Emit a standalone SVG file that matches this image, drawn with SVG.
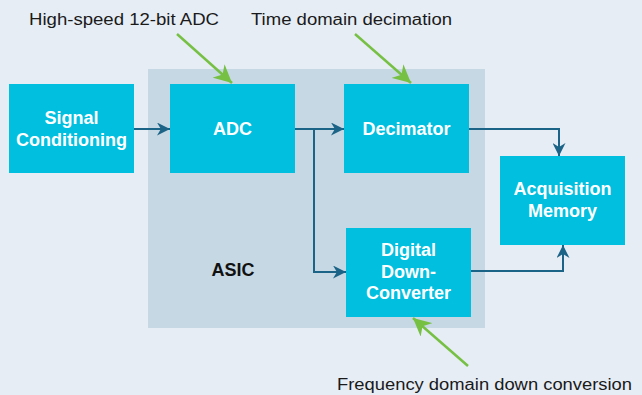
<svg xmlns="http://www.w3.org/2000/svg" width="642" height="395" viewBox="0 0 642 395">
<defs>
<style>
.node{fill:#00bfdf}
.nt{font-family:"Liberation Sans",Arial,sans-serif;font-weight:bold;font-size:18px;fill:#ffffff;text-anchor:middle}
.lbl{font-family:"Liberation Sans",Arial,sans-serif;font-size:16px;fill:#1a1a1a}
.con{fill:none;stroke:#1b6487;stroke-width:2}
.ann{fill:none;stroke:#76c043;stroke-width:2.5}
</style>
<marker id="ah" viewBox="0 0 10 10" refX="10" refY="5" markerWidth="6.5" markerHeight="6.5" markerUnits="strokeWidth" orient="auto">
<path d="M0,0 L10,5 L0,10 L3,5 Z" fill="#1b6487"/>
</marker>
<marker id="gah" viewBox="0 0 10 10" refX="10" refY="5" markerWidth="18" markerHeight="18" markerUnits="userSpaceOnUse" orient="auto">
<path d="M0,0 L10,5 L0,10 L3,5 Z" fill="#76c043"/>
</marker>
</defs>
<rect x="0" y="0" width="642" height="395" fill="#e6edf5"/>
<g id="asic">
<rect x="148" y="69" width="337" height="259" fill="#c5d8e3"/>
<text x="233" y="275.5" font-family="Liberation Sans,Arial,sans-serif" font-weight="bold" font-size="18" fill="#111" text-anchor="middle">ASIC</text>
</g>
<g id="connectors">
<line class="con" x1="134" y1="129" x2="170" y2="129" marker-end="url(#ah)"/>
<polyline class="con" points="295,129 344,129" marker-end="url(#ah)"/>
<polyline class="con" points="314,129 314,272 346,272" marker-end="url(#ah)"/>
<polyline class="con" points="469,129 559,129 559,156" marker-end="url(#ah)"/>
<polyline class="con" points="471,271 563,271 563,245" marker-end="url(#ah)"/>
</g>
<g id="signal-conditioning">
<rect class="node" x="9" y="84" width="125" height="89"/>
<text class="nt" x="71.5" y="123.5">Signal</text>
<text class="nt" x="71.5" y="145.5">Conditioning</text>
</g>
<g id="adc">
<rect class="node" x="170" y="84" width="125" height="89"/>
<text class="nt" x="232.5" y="135">ADC</text>
</g>
<g id="decimator">
<rect class="node" x="344" y="84" width="125" height="89"/>
<text class="nt" x="406.5" y="135">Decimator</text>
</g>
<g id="ddc">
<rect class="node" x="346" y="228" width="125" height="89"/>
<text class="nt" x="408.5" y="256">Digital</text>
<text class="nt" x="408.5" y="277.5">Down-</text>
<text class="nt" x="408.5" y="299">Converter</text>
</g>
<g id="acquisition-memory">
<rect class="node" x="500" y="156" width="125" height="89"/>
<text class="nt" x="562.5" y="195">Acquisition</text>
<text class="nt" x="562.5" y="217">Memory</text>
</g>
<g id="annotations">
<text class="lbl" x="29" y="25" textLength="190" lengthAdjust="spacingAndGlyphs">High-speed 12-bit ADC</text>
<text class="lbl" x="251" y="25" textLength="201" lengthAdjust="spacingAndGlyphs">Time domain decimation</text>
<text class="lbl" x="337" y="390" textLength="295" lengthAdjust="spacingAndGlyphs">Frequency domain down conversion</text>
<line class="ann" x1="177" y1="34" x2="232" y2="83" marker-end="url(#gah)"/>
<line class="ann" x1="355" y1="34" x2="411" y2="83" marker-end="url(#gah)"/>
<line class="ann" x1="468" y1="366" x2="413" y2="318" marker-end="url(#gah)"/>
</g>
</svg>
